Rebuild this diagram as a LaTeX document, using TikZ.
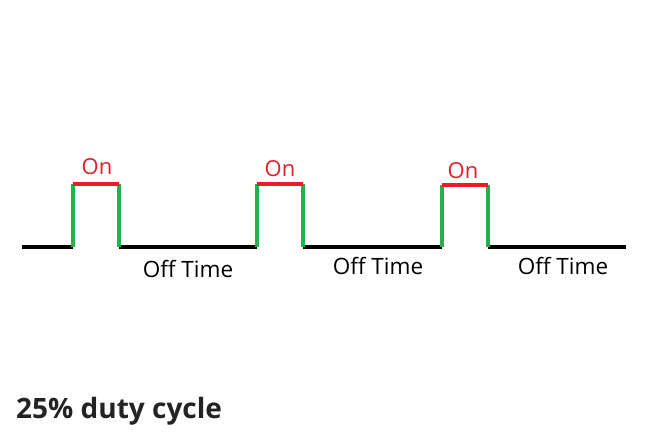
\documentclass[tikz,border=0pt]{standalone}
\usepackage{fontspec}
\setmainfont{Open Sans}
\definecolor{pgreen}{RGB}{34,177,76}
\definecolor{pred}{RGB}{230,30,40}
\definecolor{pdark}{RGB}{35,35,35}
\begin{document}
\begin{tikzpicture}[x=1pt,y=-1pt,
  lowline/.style={line width=4pt,black},
  edge/.style={line width=4pt,pgreen},
  topline/.style={line width=4pt,pred},
  onlabel/.style={text=pred,font=\fontsize{22}{26}\selectfont,inner sep=0pt},
  offlabel/.style={text=black,font=\fontsize{22.5}{26}\selectfont,inner sep=0pt}]
\useasboundingbox[fill=white] (0,0) rectangle (650,446);
% coordinates
\coordinate (s) at (22,247);
\coordinate (r1b) at (73,247); \coordinate (r1t) at (73,184);
\coordinate (f1t) at (119,184); \coordinate (f1b) at (119,247);
\coordinate (r2b) at (257,247); \coordinate (r2t) at (257,184);
\coordinate (f2t) at (303,184); \coordinate (f2b) at (303,247);
\coordinate (r3b) at (442,247); \coordinate (r3t) at (442,185);
\coordinate (f3t) at (488,185); \coordinate (f3b) at (488,247);
\coordinate (e) at (626,247);
% low lines
\draw[lowline] (s) -- (r1b);
\draw[lowline] (f1b) -- (r2b);
\draw[lowline] (f2b) -- (r3b);
\draw[lowline] (f3b) -- (e);
% edges
\draw[edge] (r1b) -- (r1t); \draw[edge] (f1t) -- (f1b);
\draw[edge] (r2b) -- (r2t); \draw[edge] (f2t) -- (f2b);
\draw[edge] (r3b) -- (r3t); \draw[edge] (f3t) -- (f3b);
% tops
\draw[topline] (r1t) -- (f1t);
\draw[topline] (r2t) -- (f2t);
\draw[topline] (r3t) -- (f3t);
% labels
\node[onlabel] (on1) at (97,167) {On};
\node[onlabel] (on2) at (280,169) {On};
\node[onlabel] (on3) at (463,171) {On};
\node[offlabel] (off1) at (188,269) {Off Time};
\node[offlabel] (off2) at (378,266) {Off Time};
\node[offlabel] (off3) at (563,266) {Off Time};
\node[text=pdark,font=\fontsize{28}{32}\selectfont\bfseries,inner sep=0pt,anchor=west] (title) at (16,411) {25\% duty cycle};
\end{tikzpicture}
\end{document}
